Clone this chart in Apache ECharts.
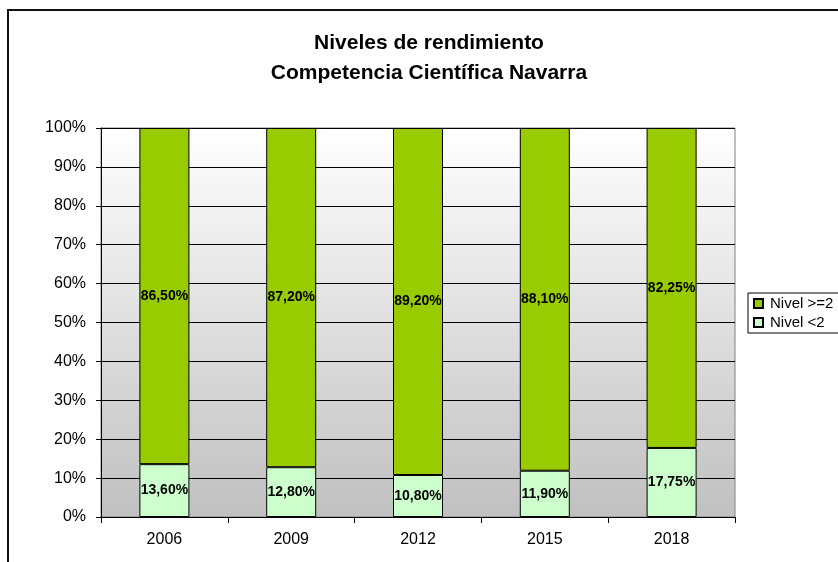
<!DOCTYPE html>
<html>
<head>
    <meta charset="utf-8" />
    <style>
        html, body { margin: 0; padding: 0; background: #fff; }
        #chart { width: 838px; height: 562px; }
    </style>
    <script src="https://cdn.jsdelivr.net/npm/echarts@6/dist/echarts.min.js"></script>
</head>
<body>
    <div id="chart"></div>
    <script type="text/javascript">
        // datos
        var years = ['2006', '2009', '2012', '2015', '2018'];
        var nivelBajo = [13.60, 12.80, 10.80, 11.90, 17.75];   // Nivel <2
        var nivelAlto = [86.50, 87.20, 89.20, 88.10, 82.25];   // Nivel >=2
        var yTicks = [0, 10, 20, 30, 40, 50, 60, 70, 80, 90, 100];

        // grafico 100% apilado: cada barra se normaliza a su total
        function share(arr, i) {
            return arr[i] / (nivelBajo[i] + nivelAlto[i]) * 100;
        }
        function fmt(v) {
            return v.toFixed(2).replace('.', ',') + '%';
        }

        var font = '"Liberation Sans", Arial, sans-serif';

        var options = {
            animation: false,
            title: {
                text: 'Niveles de rendimiento\nCompetencia Científica Navarra',
                left: 424,
                top: 23,
                textAlign: 'center',
                textStyle: {
                    fontFamily: font,
                    fontSize: 21,
                    fontWeight: 'bold',
                    color: '#000',
                    lineHeight: 30
                }
            },
            legend: {
                orient: 'vertical',
                left: 748,
                top: 293,
                data: ['Nivel >=2', 'Nivel <2'],
                itemWidth: 9,
                itemHeight: 9,
                itemGap: 4,
                icon: 'rect',
                padding: [3, 30, 3, 5],
                backgroundColor: '#fff',
                borderColor: '#000',
                borderWidth: 1,
                borderRadius: 0,
                textStyle: { fontFamily: font, fontSize: 15, color: '#000', padding: [0, 0, 0, 2] }
            },
            grid: {
                left: 101,
                right: 103,
                top: 128,
                bottom: 45,
                show: true,
                borderColor: '#808080',
                borderWidth: 1,
                backgroundColor: new echarts.graphic.LinearGradient(0, 0, 0, 1, [
                    { offset: 0, color: '#ffffff' },
                    { offset: 1, color: '#c0c0c0' }
                ])
            },
            xAxis: {
                type: 'category',
                data: years,
                axisLine: { lineStyle: { color: '#000', width: 1 } },
                axisTick: { show: true, length: 6, lineStyle: { color: '#000' } },
                axisLabel: { fontFamily: font, fontSize: 16, color: '#000', margin: 15 }
            },
            yAxis: {
                type: 'value',
                min: 0,
                max: 100,
                interval: 10,
                axisLine: { show: true, lineStyle: { color: '#000', width: 1 } },
                axisTick: { show: true, length: 5, lineStyle: { color: '#000' } },
                axisLabel: {
                    fontFamily: font, fontSize: 16, color: '#000', margin: 15,
                    formatter: function (v) { return yTicks.indexOf(v) >= 0 ? v + '%' : ''; }
                },
                splitLine: { show: true, lineStyle: { color: '#000', width: 1 } }
            },
            series: [
                {
                    name: 'Nivel <2',
                    type: 'bar',
                    stack: 'total',
                    barWidth: 50,
                    data: years.map(function (y, i) { return share(nivelBajo, i); }),
                    itemStyle: { color: '#ccffcc', borderColor: '#000', borderWidth: 1 },
                    label: {
                        show: true,
                        position: 'inside',
                        fontFamily: font,
                        fontSize: 14,
                        fontWeight: 'bold',
                        color: '#000',
                        formatter: function (p) { return fmt(nivelBajo[p.dataIndex]); }
                    }
                },
                {
                    name: 'Nivel >=2',
                    type: 'bar',
                    stack: 'total',
                    barWidth: 50,
                    data: years.map(function (y, i) { return share(nivelAlto, i); }),
                    itemStyle: { color: '#99cc00', borderColor: '#000', borderWidth: 1 },
                    label: {
                        show: true,
                        position: 'inside',
                        fontFamily: font,
                        fontSize: 14,
                        fontWeight: 'bold',
                        color: '#000',
                        formatter: function (p) { return fmt(nivelAlto[p.dataIndex]); }
                    }
                }
            ],
            graphic: [
                {
                    type: 'rect',
                    shape: { x: 8, y: 10, width: 900, height: 600 },
                    style: { fill: 'none', stroke: '#111', lineWidth: 2 },
                    silent: true
                }
            ]
        };

        var myChart = echarts.init(document.getElementById('chart'));
        myChart.setOption(options);
    </script>
</body>
</html>
